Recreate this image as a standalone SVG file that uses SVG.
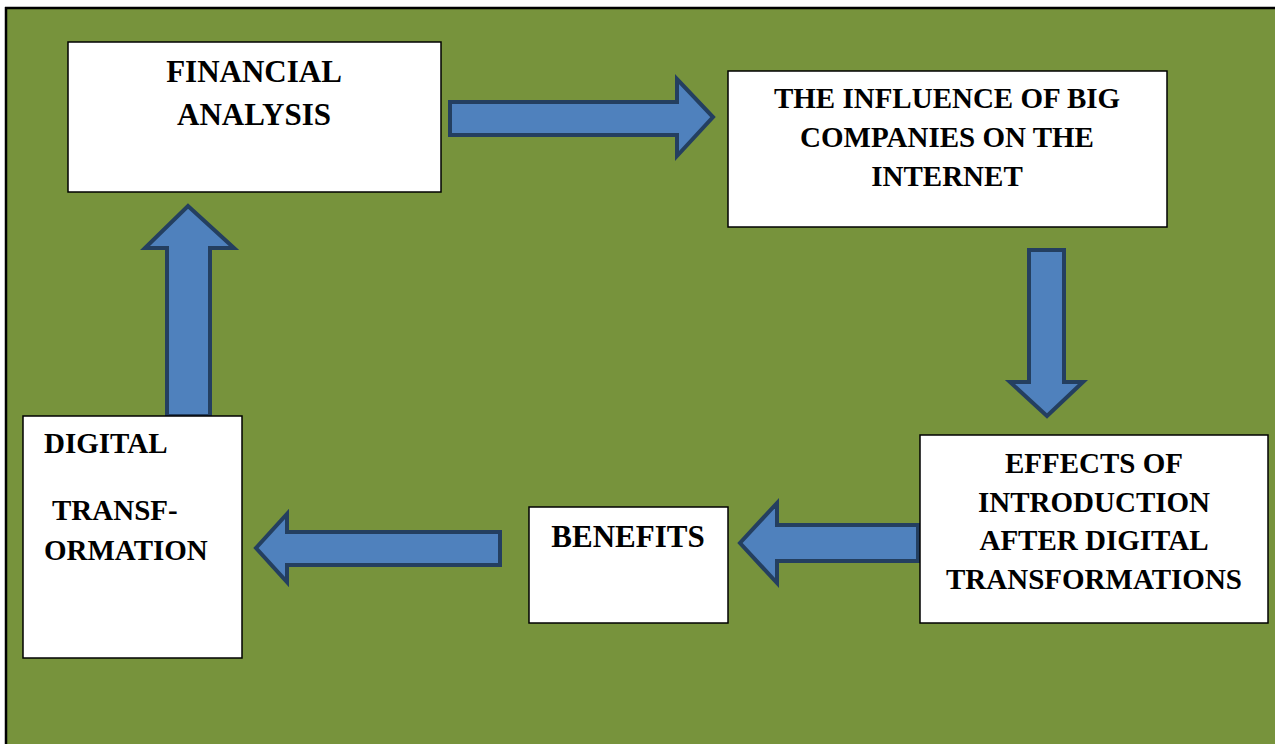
<svg xmlns="http://www.w3.org/2000/svg" width="1275" height="744" viewBox="0 0 1275 744">
  <style>
    .box { fill: #ffffff; stroke: #000000; stroke-width: 1.5; }
    .arrow { fill: #4F81BD; stroke: #243F60; stroke-width: 4; stroke-linejoin: miter; }
    .lbl { font-family: "Liberation Serif", "Times New Roman", serif; font-weight: bold; font-size: 30px; fill: #000000; }
    .c { text-anchor: middle; }
  </style>
  <rect x="0" y="0" width="1275" height="744" fill="#ffffff"/>
  <rect x="6" y="8" width="1269" height="736" fill="#77933C"/>
  <line x1="5" y1="8" x2="1275" y2="8" stroke="#000000" stroke-width="2.5"/>
  <line x1="6" y1="7" x2="6" y2="744" stroke="#000000" stroke-width="2.5"/>

  <g id="connectors">
    <path class="arrow" d="M450,102 L677,102 L677,79 L713,117 L677,156 L677,135 L450,135 Z"/>
    <path class="arrow" d="M1029,250 L1064,250 L1064,382 L1083,382 L1047,416 L1010,382 L1029,382 Z"/>
    <path class="arrow" d="M918,525 L777,525 L777,503 L740,543 L777,583 L777,561 L918,561 Z"/>
    <path class="arrow" d="M500,532 L287,532 L287,514 L256,548 L287,582 L287,565 L500,565 Z"/>
    <path class="arrow" d="M167,416 L210,416 L210,248 L234,248 L188,206 L145,248 L167,248 Z"/>
  </g>

  <g id="node-financial">
    <rect class="box" x="68" y="42" width="373" height="150"/>
    <text class="lbl c" x="254" y="82" style="font-size:31px">FINANCIAL</text>
    <text class="lbl c" x="254" y="125" style="font-size:31px">ANALYSIS</text>
  </g>

  <g id="node-influence">
    <rect class="box" x="728" y="71" width="439" height="156"/>
    <text class="lbl c" x="947" y="108" style="font-size:29px">THE INFLUENCE OF BIG</text>
    <text class="lbl c" x="947" y="147" style="font-size:29px">COMPANIES ON THE</text>
    <text class="lbl c" x="947" y="186" style="font-size:29px">INTERNET</text>
  </g>

  <g id="node-effects">
    <rect class="box" x="920" y="435" width="348" height="188"/>
    <text class="lbl c" x="1094" y="473" style="font-size:29px">EFFECTS OF</text>
    <text class="lbl c" x="1094" y="512" style="font-size:29px">INTRODUCTION</text>
    <text class="lbl c" x="1094" y="550" style="font-size:29px">AFTER DIGITAL</text>
    <text class="lbl c" x="1094" y="589" style="font-size:29px">TRANSFORMATIONS</text>
  </g>

  <g id="node-benefits">
    <rect class="box" x="529" y="507" width="199" height="116"/>
    <text class="lbl c" x="628" y="547" style="font-size:31px">BENEFITS</text>
  </g>

  <g id="node-digital">
    <rect class="box" x="23" y="416" width="219" height="242"/>
    <text class="lbl" x="44" y="453" style="font-size:29px">DIGITAL</text>
    <text class="lbl" x="52" y="520" style="font-size:29px">TRANSF-</text>
    <text class="lbl" x="44" y="560" style="font-size:29px">ORMATION</text>
  </g>
</svg>
